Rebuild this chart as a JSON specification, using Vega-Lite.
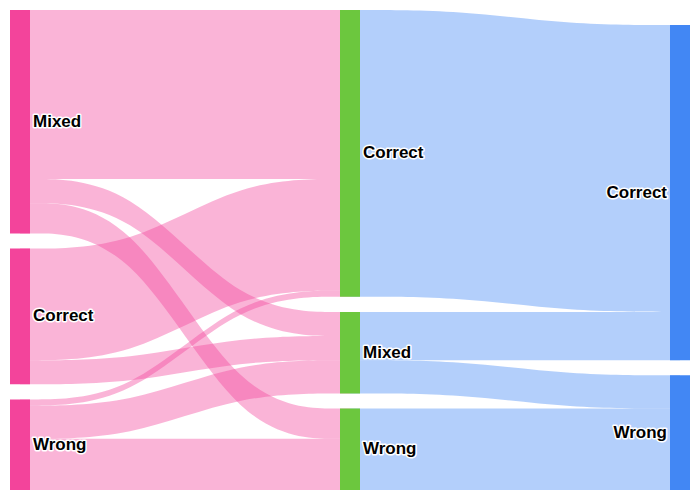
{
  "$schema": "https://vega.github.io/schema/vega-lite/v6.json",
  "width": 700,
  "height": 500,
  "autosize": {"type": "fit", "contains": "padding"},
  "padding": 0,
  "background": "white",
  "config": {"view": {"stroke": null}},
  "datasets": {
    "nodes": [
      {"name": "Mixed", "column": "left", "stage": 0, "y0": 0, "y1": 74},
      {"name": "Correct", "column": "left", "stage": 0, "y0": 79, "y1": 124},
      {"name": "Wrong", "column": "left", "stage": 0, "y0": 129, "y1": 159},
      {"name": "Correct", "column": "middle", "stage": 1, "y0": 0, "y1": 95},
      {"name": "Mixed", "column": "middle", "stage": 1, "y0": 100, "y1": 127},
      {"name": "Wrong", "column": "middle", "stage": 1, "y0": 132, "y1": 159},
      {"name": "Correct", "column": "right", "stage": 2, "y0": 5, "y1": 116},
      {"name": "Wrong", "column": "right", "stage": 2, "y0": 121, "y1": 159}
    ],
    "links": [
      {"link": "L1", "column": "left-middle", "stage": 0, "top": 0, "bottom": 56},
      {"link": "L1", "column": "left-middle", "stage": 0.3333, "top": 0, "bottom": 56},
      {"link": "L1", "column": "left-middle", "stage": 0.6667, "top": 0, "bottom": 56},
      {"link": "L1", "column": "left-middle", "stage": 1, "top": 0, "bottom": 56},
      {"link": "L2", "column": "left-middle", "stage": 0, "top": 56, "bottom": 64},
      {"link": "L2", "column": "left-middle", "stage": 0.3333, "top": 56, "bottom": 64},
      {"link": "L2", "column": "left-middle", "stage": 0.6667, "top": 100, "bottom": 108},
      {"link": "L2", "column": "left-middle", "stage": 1, "top": 100, "bottom": 108},
      {"link": "L3", "column": "left-middle", "stage": 0, "top": 64, "bottom": 74},
      {"link": "L3", "column": "left-middle", "stage": 0.3333, "top": 64, "bottom": 74},
      {"link": "L3", "column": "left-middle", "stage": 0.6667, "top": 132, "bottom": 142},
      {"link": "L3", "column": "left-middle", "stage": 1, "top": 132, "bottom": 142},
      {"link": "L4", "column": "left-middle", "stage": 0, "top": 79, "bottom": 116},
      {"link": "L4", "column": "left-middle", "stage": 0.3333, "top": 79, "bottom": 116},
      {"link": "L4", "column": "left-middle", "stage": 0.6667, "top": 56, "bottom": 93},
      {"link": "L4", "column": "left-middle", "stage": 1, "top": 56, "bottom": 93},
      {"link": "L5", "column": "left-middle", "stage": 0, "top": 116, "bottom": 124},
      {"link": "L5", "column": "left-middle", "stage": 0.3333, "top": 116, "bottom": 124},
      {"link": "L5", "column": "left-middle", "stage": 0.6667, "top": 108, "bottom": 116},
      {"link": "L5", "column": "left-middle", "stage": 1, "top": 108, "bottom": 116},
      {"link": "L6", "column": "left-middle", "stage": 0, "top": 129, "bottom": 131},
      {"link": "L6", "column": "left-middle", "stage": 0.3333, "top": 129, "bottom": 131},
      {"link": "L6", "column": "left-middle", "stage": 0.6667, "top": 93, "bottom": 95},
      {"link": "L6", "column": "left-middle", "stage": 1, "top": 93, "bottom": 95},
      {"link": "L7", "column": "left-middle", "stage": 0, "top": 131, "bottom": 142},
      {"link": "L7", "column": "left-middle", "stage": 0.3333, "top": 131, "bottom": 142},
      {"link": "L7", "column": "left-middle", "stage": 0.6667, "top": 116, "bottom": 127},
      {"link": "L7", "column": "left-middle", "stage": 1, "top": 116, "bottom": 127},
      {"link": "L8", "column": "left-middle", "stage": 0, "top": 142, "bottom": 159},
      {"link": "L8", "column": "left-middle", "stage": 0.3333, "top": 142, "bottom": 159},
      {"link": "L8", "column": "left-middle", "stage": 0.6667, "top": 142, "bottom": 159},
      {"link": "L8", "column": "left-middle", "stage": 1, "top": 142, "bottom": 159},
      {"link": "L9", "column": "middle-right", "stage": 1, "top": 0, "bottom": 95},
      {"link": "L9", "column": "middle-right", "stage": 1.3333, "top": 0, "bottom": 95},
      {"link": "L9", "column": "middle-right", "stage": 1.6667, "top": 5, "bottom": 100},
      {"link": "L9", "column": "middle-right", "stage": 2, "top": 5, "bottom": 100},
      {"link": "L10", "column": "middle-right", "stage": 1, "top": 100, "bottom": 116},
      {"link": "L10", "column": "middle-right", "stage": 1.3333, "top": 100, "bottom": 116},
      {"link": "L10", "column": "middle-right", "stage": 1.6667, "top": 100, "bottom": 116},
      {"link": "L10", "column": "middle-right", "stage": 2, "top": 100, "bottom": 116},
      {"link": "L11", "column": "middle-right", "stage": 1, "top": 116, "bottom": 127},
      {"link": "L11", "column": "middle-right", "stage": 1.3333, "top": 116, "bottom": 127},
      {"link": "L11", "column": "middle-right", "stage": 1.6667, "top": 121, "bottom": 132},
      {"link": "L11", "column": "middle-right", "stage": 2, "top": 121, "bottom": 132},
      {"link": "L12", "column": "middle-right", "stage": 1, "top": 132, "bottom": 159},
      {"link": "L12", "column": "middle-right", "stage": 1.3333, "top": 132, "bottom": 159},
      {"link": "L12", "column": "middle-right", "stage": 1.6667, "top": 132, "bottom": 159},
      {"link": "L12", "column": "middle-right", "stage": 2, "top": 132, "bottom": 159}
    ]
  },
  "layer": [
    {
      "data": {"name": "links"},
      "mark": {"type": "area", "interpolate": "basis", "fillOpacity": 0.4},
      "encoding": {
        "x": {"field": "stage", "type": "quantitative", "scale": {"domain": [0, 2], "range": [20, 680], "nice": false, "zero": false}, "axis": null},
        "y": {"field": "top", "type": "quantitative", "scale": {"domain": [0, 159], "range": [10, 490], "nice": false, "zero": false}, "axis": null, "stack": null},
        "y2": {"field": "bottom"},
        "detail": {"field": "link", "type": "nominal"},
        "color": {
          "field": "column", "type": "nominal", "legend": null,
          "scale": {"domain": ["left", "middle", "right", "left-middle", "middle-right"], "range": ["#F3449B", "#6CC73E", "#4287F4", "#F3449B", "#4287F4"]}
        }
      }
    },
    {
      "data": {"name": "nodes"},
      "mark": {"type": "rule", "strokeWidth": 20, "strokeCap": "butt"},
      "encoding": {
        "x": {"field": "stage", "type": "quantitative", "scale": {"domain": [0, 2], "range": [20, 680], "nice": false, "zero": false}, "axis": null},
        "y": {"field": "y0", "type": "quantitative", "scale": {"domain": [0, 159], "range": [10, 490], "nice": false, "zero": false}, "axis": null},
        "y2": {"field": "y1"},
        "color": {"field": "column", "type": "nominal", "legend": null}
      }
    },
    {
      "data": {"name": "nodes"},
      "transform": [{"filter": "datum.stage < 2"}, {"calculate": "(datum.y0 + datum.y1) / 2", "as": "mid"}],
      "mark": {"type": "text", "align": "left", "baseline": "middle", "dx": 13, "font": "Liberation Sans", "fontWeight": "bold", "fontSize": 17, "fill": "white", "stroke": "white", "strokeWidth": 3, "strokeJoin": "round"},
      "encoding": {
        "x": {"field": "stage", "type": "quantitative"},
        "y": {"field": "mid", "type": "quantitative"},
        "text": {"field": "name"}
      }
    },
    {
      "data": {"name": "nodes"},
      "transform": [{"filter": "datum.stage < 2"}, {"calculate": "(datum.y0 + datum.y1) / 2", "as": "mid"}],
      "mark": {"type": "text", "align": "left", "baseline": "middle", "dx": 13, "font": "Liberation Sans", "fontWeight": "bold", "fontSize": 17, "fill": "black"},
      "encoding": {
        "x": {"field": "stage", "type": "quantitative"},
        "y": {"field": "mid", "type": "quantitative"},
        "text": {"field": "name"}
      }
    },
    {
      "data": {"name": "nodes"},
      "transform": [{"filter": "datum.stage == 2"}, {"calculate": "(datum.y0 + datum.y1) / 2", "as": "mid"}],
      "mark": {"type": "text", "align": "right", "baseline": "middle", "dx": -13, "font": "Liberation Sans", "fontWeight": "bold", "fontSize": 17, "fill": "white", "stroke": "white", "strokeWidth": 3, "strokeJoin": "round"},
      "encoding": {
        "x": {"field": "stage", "type": "quantitative"},
        "y": {"field": "mid", "type": "quantitative"},
        "text": {"field": "name"}
      }
    },
    {
      "data": {"name": "nodes"},
      "transform": [{"filter": "datum.stage == 2"}, {"calculate": "(datum.y0 + datum.y1) / 2", "as": "mid"}],
      "mark": {"type": "text", "align": "right", "baseline": "middle", "dx": -13, "font": "Liberation Sans", "fontWeight": "bold", "fontSize": 17, "fill": "black"},
      "encoding": {
        "x": {"field": "stage", "type": "quantitative"},
        "y": {"field": "mid", "type": "quantitative"},
        "text": {"field": "name"}
      }
    }
  ]
}
